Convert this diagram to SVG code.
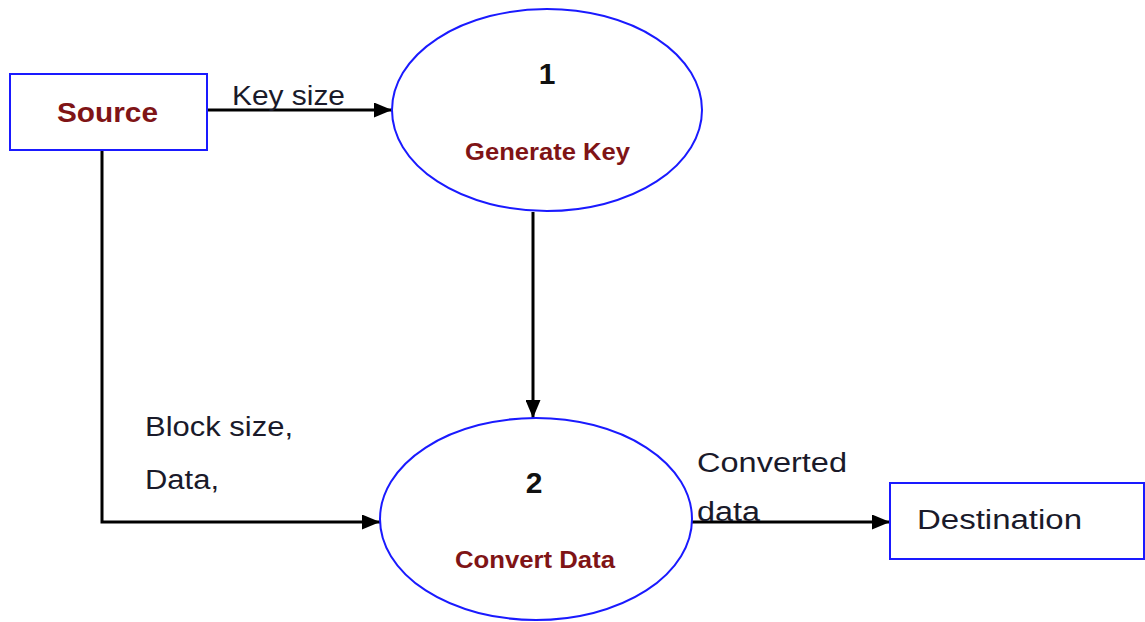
<svg xmlns="http://www.w3.org/2000/svg" width="1145" height="622" viewBox="0 0 1145 622">
<style>
.box{fill:#fff;stroke:#1a1aff;stroke-width:2}
.proc{fill:#fff;stroke:#1a1aff;stroke-width:2}
.lbl{font-family:"Liberation Sans",Arial,sans-serif;font-size:27px;fill:#1a1a2a}
.nm{font-family:"Liberation Sans",Arial,sans-serif;font-weight:bold;fill:#7f1416}
.num{font-family:"Liberation Sans",Arial,sans-serif;font-weight:bold;font-size:30px;fill:#111}
.conn{fill:none;stroke:#000;stroke-width:3}
</style>
<defs>
<marker id="ah" viewBox="0 0 12 10" refX="12" refY="5" markerWidth="6" markerHeight="5" markerUnits="strokeWidth" orient="auto">
<path d="M0,0 L12,5 L0,10 Z" fill="#000"/>
</marker>
</defs>
<rect width="1145" height="622" fill="#fff"/>
<g id="connectors">
<line class="conn" x1="207" y1="110" x2="392" y2="110" marker-end="url(#ah)"/>
<line class="conn" x1="533" y1="212" x2="533" y2="418" marker-end="url(#ah)"/>
<polyline class="conn" points="102,150 102,522 380,522" marker-end="url(#ah)"/>
<line class="conn" x1="692" y1="522" x2="890" y2="522" marker-end="url(#ah)"/>
</g>
<g id="source">
<rect class="box" x="10" y="74" width="197" height="76"/>
<text class="nm" x="57" y="122" font-size="28" textLength="101" lengthAdjust="spacingAndGlyphs">Source</text>
</g>
<g id="generate-key">
<ellipse class="proc" cx="547" cy="110" rx="155" ry="101"/>
<text class="num" x="547" y="84" text-anchor="middle">1</text>
<text class="nm" x="465" y="160" font-size="23" textLength="165" lengthAdjust="spacingAndGlyphs">Generate Key</text>
</g>
<g id="convert-data">
<ellipse class="proc" cx="536" cy="519" rx="156" ry="101"/>
<text class="num" x="534" y="493" text-anchor="middle">2</text>
<text class="nm" x="455" y="568" font-size="23" textLength="160" lengthAdjust="spacingAndGlyphs">Convert Data</text>
</g>
<g id="destination">
<rect class="box" x="890" y="483" width="254" height="76"/>
<text class="lbl" x="917" y="529" textLength="165" lengthAdjust="spacingAndGlyphs">Destination</text>
</g>
<g id="labels">
<text class="lbl" x="232" y="105" textLength="113" lengthAdjust="spacingAndGlyphs">Key size</text>
<text class="lbl" x="145" y="436" textLength="148" lengthAdjust="spacingAndGlyphs">Block size,</text>
<text class="lbl" x="145" y="489" textLength="74" lengthAdjust="spacingAndGlyphs">Data,</text>
<text class="lbl" x="697" y="472" textLength="150" lengthAdjust="spacingAndGlyphs">Converted</text>
<text class="lbl" x="697" y="521" textLength="63" lengthAdjust="spacingAndGlyphs">data</text>
</g>
</svg>
